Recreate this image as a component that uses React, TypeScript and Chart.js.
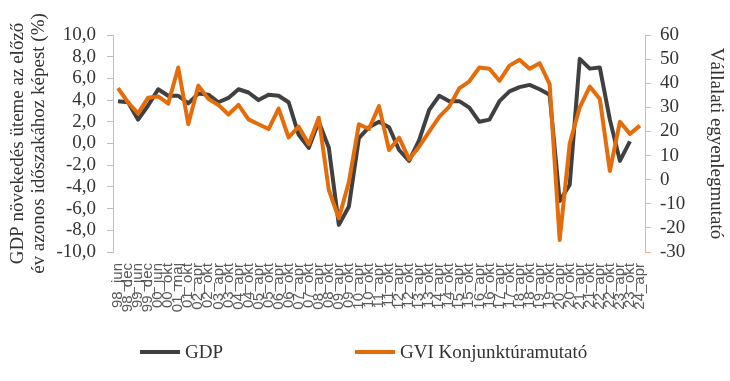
import React, { useEffect, useRef } from 'react';
import { Chart, registerables } from 'chart.js';

Chart.register(...registerables);

const categories = [
  '98_jun', '98_dec', '99_jun', '99_dec', '00_jun', '00_okt', '01_maj', '01_okt',
  '02_apr', '02_okt', '03_apr', '03_okt', '04_apr', '04_okt', '05_apr', '05_okt',
  '06_apr', '06_okt', '07_apr', '07_okt', '08_apr', '08_okt', '09_apr', '09_okt',
  '10_apr', '10_okt', '11_apr', '11_okt', '12_apr', '12_okt', '13_apr', '13_okt',
  '14_apr', '14_okt', '15_apr', '15_okt', '16_apr', '16_okt', '17_apr', '17_okt',
  '18_apr', '18_okt', '19_apr', '19_okt', '20_apr', '20_okt', '21_apr', '21_okt',
  '22_apr', '22_okt', '23_apr', '23_okt', '24_apr',
];

const gdp: (number | null)[] = [
  3.9, 3.8, 2.2, 3.5, 5.0, 4.4, 4.4, 3.7, 4.6, 4.5,
  3.8, 4.2, 5.0, 4.7, 4.0, 4.5, 4.4, 3.8, 0.8, -0.4,
  2.0, -0.4, -7.5, -5.8, 0.5, 1.5, 2.0, 1.5, -0.6, -1.6,
  0.3, 3.1, 4.4, 3.9, 3.9, 3.3, 2.0, 2.2, 3.9, 4.8,
  5.2, 5.4, 5.0, 4.5, -5.3, -3.8, 7.8, 6.9, 7.0, 2.2,
  -1.6, 0.2, null,
];

const gvi: number[] = [
  38, 32, 27.5, 34, 34.5, 31.5, 46.5, 23, 39, 33.5,
  31, 27, 31, 25, 23, 21, 29.5, 17.5, 22, 14.7,
  25.7, -4.3, -16, -1, 23, 21, 30.5, 12.3, 17.4, 8.5,
  13.7, 19.9, 26, 30.3, 37.9, 40.8, 46.5, 46, 41, 47.3,
  49.7, 46, 48.3, 39.6, -25, 15, 30, 38.6, 33.5, 3.6,
  24, 19, 22.4,
];

const seriesNames = ['GDP', 'GVI Konjunktúramutató'];
const leftTitle = ['GDP növekedés üteme az előző', 'év azonos időszakához képest (%)'];
const rightTitle = 'Vállalati egyenlegmutató';

const SERIF = "'Liberation Serif', 'Times New Roman', serif";
const SANS = "'Liberation Sans', Arial, sans-serif";
const GDP_COLOR = '#404040';
const GVI_COLOR = '#E46C0A';
const TEXT_COLOR = '#333333';

const legendPlugin = {
  id: 'customBottomLegend',
  afterDraw(chart: any) {
    const ctx = chart.ctx as CanvasRenderingContext2D;
    const xs = [140, 355];
    const y = 352;
    chart.data.datasets.forEach((ds: any, i: number) => {
      const x = xs[i];
      ctx.save();
      ctx.strokeStyle = ds.borderColor;
      ctx.lineWidth = 4;
      ctx.beginPath();
      ctx.moveTo(x, y);
      ctx.lineTo(x + 40, y);
      ctx.stroke();
      ctx.fillStyle = TEXT_COLOR;
      ctx.font = `19px ${SERIF}`;
      ctx.textBaseline = 'middle';
      ctx.textAlign = 'left';
      ctx.fillText(ds.label, x + 45, y + 1);
      ctx.restore();
    });
  },
};

export default function App() {
  const canvasRef = useRef<HTMLCanvasElement | null>(null);

  useEffect(() => {
    if (!canvasRef.current) return;
    const chart = new Chart(canvasRef.current, {
      type: 'line',
      data: {
        labels: categories,
        datasets: [
          {
            label: seriesNames[0],
            data: gdp,
            borderColor: GDP_COLOR,
            backgroundColor: GDP_COLOR,
            borderWidth: 4,
            pointRadius: 0,
            tension: 0,
            borderJoinStyle: 'round',
            yAxisID: 'y',
            order: 1,
            spanGaps: false,
          },
          {
            label: seriesNames[1],
            data: gvi,
            borderColor: GVI_COLOR,
            backgroundColor: GVI_COLOR,
            borderWidth: 4,
            pointRadius: 0,
            tension: 0,
            borderJoinStyle: 'round',
            yAxisID: 'y1',
            order: 0,
          },
        ],
      },
      options: {
        responsive: false,
        animation: false,
        devicePixelRatio: 1,
        layout: { padding: { top: 35, left: 0, right: 0, bottom: 0 } },
        plugins: {
          legend: { display: false },
          tooltip: { enabled: false },
        },
        scales: {
          x: {
            type: 'category',
            offset: true,
            grid: { display: false, drawTicks: false },
            border: { display: false },
            ticks: {
              autoSkip: false,
              maxRotation: 90,
              minRotation: 90,
              padding: 11,
              color: '#595959',
              font: { family: SANS, size: 15 },
            },
            afterFit: (s: any) => {
              s.height = 129;
            },
          },
          y: {
            position: 'left',
            min: -10,
            max: 10,
            ticks: {
              stepSize: 2,
              autoSkip: false,
              padding: 11,
              color: TEXT_COLOR,
              font: { family: SERIF, size: 19 },
              callback: (v: any) => Number(v).toFixed(1).replace('.', ','),
            },
            grid: {
              display: true,
              drawOnChartArea: false,
              drawTicks: true,
              tickLength: 6,
              tickColor: '#BFBFBF',
            },
            border: { display: true, color: '#BFBFBF', width: 1 },
            title: {
              display: true,
              text: leftTitle,
              color: TEXT_COLOR,
              font: { family: SERIF, size: 19, lineHeight: 1.1 },
              padding: { top: 8, bottom: 0 },
            },
            afterFit: (s: any) => {
              s.width = 113;
            },
          },
          y1: {
            position: 'right',
            min: -30,
            max: 60,
            ticks: {
              stepSize: 10,
              autoSkip: false,
              padding: 9,
              color: TEXT_COLOR,
              font: { family: SERIF, size: 19 },
            },
            grid: {
              display: true,
              drawOnChartArea: false,
              drawTicks: true,
              tickLength: 6,
              tickColor: '#F4B183',
            },
            border: { display: true, color: '#F4B183', width: 1 },
            title: {
              display: true,
              text: rightTitle,
              color: TEXT_COLOR,
              font: { family: SERIF, size: 19, lineHeight: 1.1 },
              padding: { top: 4, bottom: 0 },
            },
            afterFit: (s: any) => {
              s.width = 85;
            },
          },
        },
      },
      plugins: [legendPlugin],
    } as any);
    return () => chart.destroy();
  }, []);

  return (
    <div style={{ position: 'absolute', left: 0, top: 0, width: 730, height: 381, background: '#ffffff' }}>
      <canvas ref={canvasRef} width={730} height={381} style={{ display: 'block', width: 730, height: 381 }} />
    </div>
  );
}
